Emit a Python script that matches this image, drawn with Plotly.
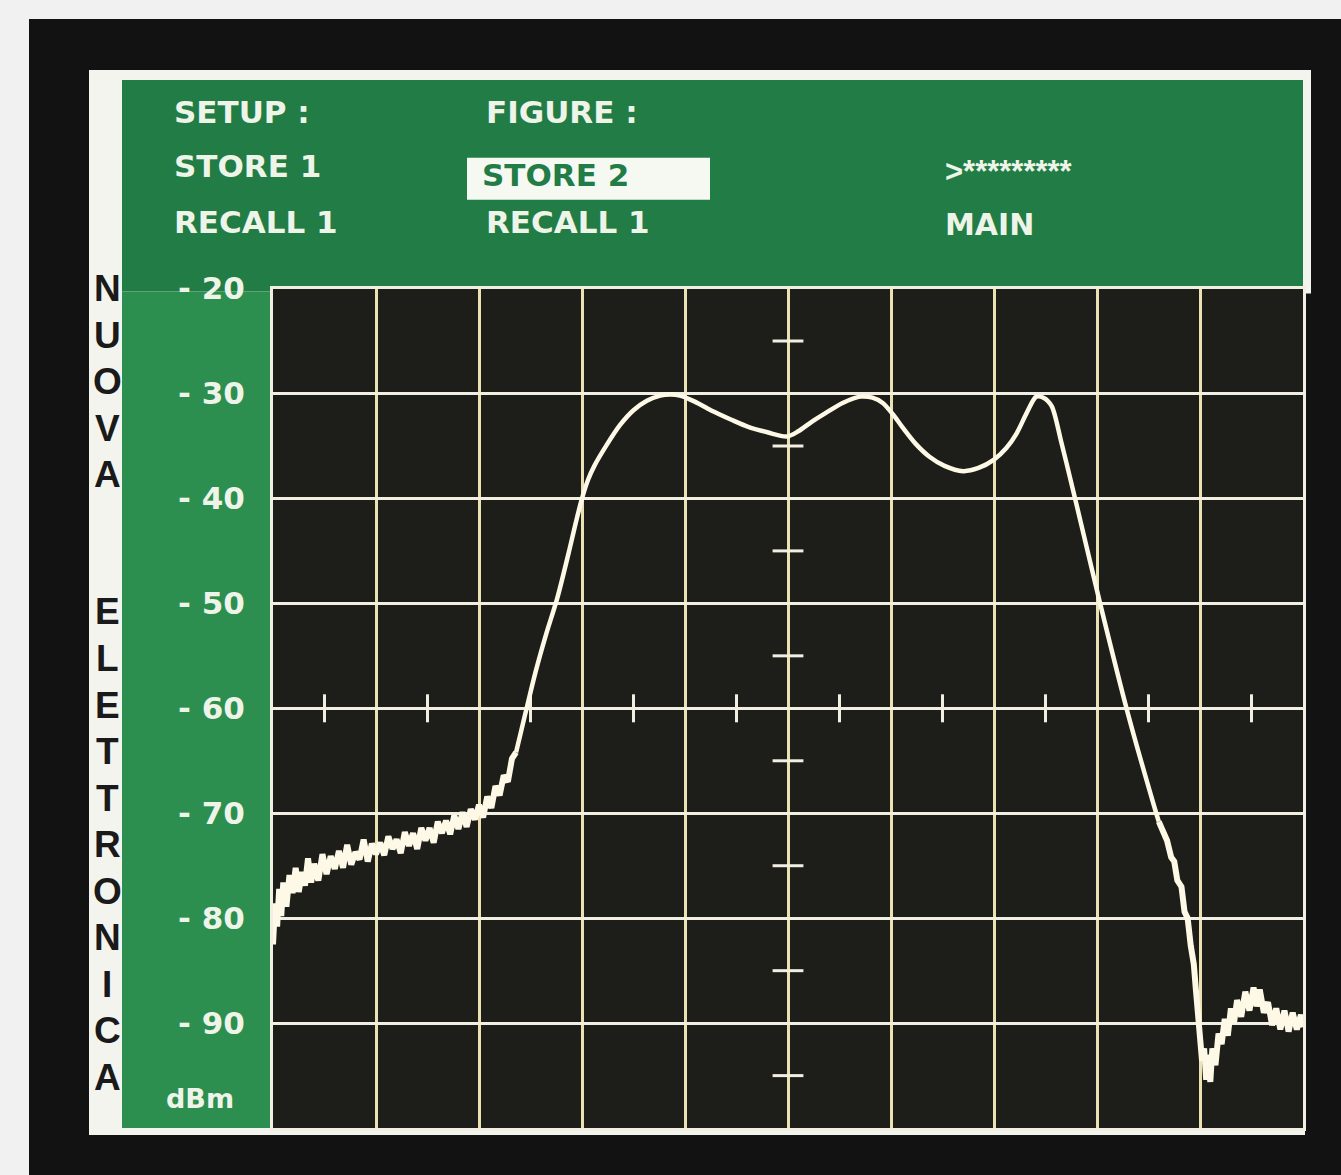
import plotly.graph_objects as go

W, H = 1341, 1175

# ---------------- DATA ----------------
# x in screen divisions (0..10), y in dBm
left_noise_x = [0.00, 0.02, 0.04, 0.06, 0.08, 0.10, 0.13, 0.16, 0.19, 0.22, 0.25, 0.28, 0.31, 0.34,
                0.37, 0.40, 0.44, 0.48, 0.52, 0.56, 0.60, 0.64, 0.68, 0.72, 0.76, 0.80, 0.84, 0.88,
                0.92, 0.96, 1.00, 1.04, 1.08, 1.12, 1.16, 1.20, 1.24, 1.28, 1.32, 1.36, 1.40, 1.44,
                1.48, 1.52, 1.56, 1.60, 1.64, 1.68, 1.72, 1.76, 1.80, 1.84, 1.88, 1.92, 1.96, 2.00,
                2.04, 2.08, 2.12, 2.16, 2.20, 2.24, 2.28, 2.32, 2.36]
left_noise_y = [-82.5, -78.6, -80.8, -77.2, -79.8, -76.6, -78.9, -75.9, -77.6, -75.2, -77.5, -75.6, -76.9, -74.3,
                -76.6, -74.8, -76.4, -73.9, -75.8, -74.1, -75.3, -73.6, -75.2, -73.0, -74.9, -73.7, -74.4, -72.5,
                -74.6, -72.9, -73.9, -72.8, -74.0, -72.2, -73.4, -72.5, -73.8, -71.8, -73.1, -71.9, -73.4, -71.4,
                -72.6, -71.4, -72.8, -70.8, -71.9, -70.7, -72.0, -70.2, -71.5, -69.9, -71.3, -69.6, -70.6, -69.2,
                -70.4, -68.4, -69.5, -67.4, -68.3, -66.4, -67.0, -64.8, -64.2]

band_x = [2.36, 2.45, 2.55, 2.65, 2.76, 2.88, 2.94, 3.00, 3.06, 3.12, 3.24, 3.37, 3.50, 3.63, 3.76, 3.86, 3.95,
          4.10, 4.25, 4.45, 4.62, 4.80, 4.99, 5.10, 5.23, 5.36, 5.53, 5.70, 5.82, 5.92, 6.02, 6.11,
          6.24, 6.37, 6.52, 6.70, 6.85, 7.00, 7.12, 7.22, 7.32, 7.41, 7.48, 7.56, 7.65, 7.75, 7.85,
          8.03, 8.30, 8.56, 8.60]
band_y = [-64.2, -60.5, -56.5, -53.0, -49.5, -44.8, -42.3, -40.0, -38.2, -36.9, -34.9, -33.0, -31.6, -30.7, -30.2,
          -30.1, -30.2, -30.8, -31.6, -32.5, -33.2, -33.7, -34.1, -33.6, -32.7, -31.9, -30.9, -30.3, -30.4, -30.9,
          -32.0, -33.2, -34.8, -36.0, -36.9, -37.4, -37.1, -36.3, -35.2, -33.8, -31.8, -30.3, -30.4, -31.2, -34.5,
          -38.5, -42.6, -50.0, -60.5, -69.5, -70.8]

right_noise_x = [8.60, 8.64, 8.68, 8.72, 8.75, 8.78, 8.82, 8.85, 8.88, 8.91, 8.94, 8.96, 8.98, 9.00,
                 9.02, 9.04, 9.06, 9.08, 9.10, 9.12, 9.15, 9.18, 9.21, 9.24, 9.27, 9.30, 9.33, 9.36,
                 9.40, 9.44, 9.48, 9.52, 9.55, 9.58, 9.62, 9.66, 9.70, 9.74, 9.78, 9.82, 9.86, 9.90,
                 9.94, 9.98, 10.00]
right_noise_y = [-70.8, -71.8, -72.6, -74.2, -74.6, -76.4, -77.0, -79.4, -80.0, -82.6, -84.4, -86.8, -89.2, -91.5,
                 -93.6, -92.4, -95.4, -93.0, -95.6, -92.4, -94.0, -91.0, -92.0, -89.6, -91.2, -88.6, -90.0, -87.8,
                 -89.4, -87.0, -88.8, -86.6, -88.4, -86.8, -89.0, -88.0, -90.2, -88.6, -90.6, -88.8, -90.8, -89.0,
                 -90.6, -89.2, -90.4]

# graticule centre-line minor marks
centre_h_marks_x = [0.5, 1.5, 2.5, 3.5, 4.5, 5.5, 6.5, 7.5, 8.5, 9.5]
centre_h_marks_y = -60
centre_v_marks_y = [-25, -35, -45, -55, -65, -75, -85, -95]
centre_v_marks_x = 5

y_tick_vals = [-20, -30, -40, -50, -60, -70, -80, -90]
y_tick_text = ["- 20", "- 30", "- 40", "- 50", "- 60", "- 70", "- 80", "- 90"]
y_unit = "dBm"

menu_col1 = ["SETUP :", "STORE 1", "RECALL 1"]
menu_col2 = ["FIGURE :", "STORE 2", "RECALL 1"]
menu_col3 = [">*********", "MAIN"]
side_words = ["NUOVA", "ELETTRONICA"]

# ---------------- STYLE ----------------
TRACE = "#fdf9e6"
GRID_V = "#ebe2b4"
GRID_H = "#f2efe2"
GREEN_HDR = "#217c46"
GREEN_SIDE = "#2c8f50"
PLOT_BG = "#1d1e19"
PANEL = "#f4f4ee"
TXT = "#eef4e8"
FONT = "DejaVu Sans"

# the page is shown with a 16 px band above the figure, which is 1159 px tall
TOP_OFF, EFF_H = 16, 1159


def px(x):
    return x / W


def py(y):
    return 1 - (y - TOP_OFF) / EFF_H


fig = go.Figure()

fig.add_trace(go.Scatter(
    x=centre_h_marks_x, y=[centre_h_marks_y] * len(centre_h_marks_x), mode="markers",
    marker=dict(symbol="line-ns", size=20, line=dict(color=GRID_H, width=3)),
    hoverinfo="skip", showlegend=False))
fig.add_trace(go.Scatter(
    x=[centre_v_marks_x] * len(centre_v_marks_y), y=centre_v_marks_y, mode="markers",
    marker=dict(symbol="line-ew", size=22, line=dict(color=GRID_H, width=3)),
    hoverinfo="skip", showlegend=False))

fig.add_trace(go.Scatter(x=left_noise_x, y=left_noise_y, mode="lines",
                         line=dict(color=TRACE, width=6), showlegend=False))
fig.add_trace(go.Scatter(x=band_x, y=band_y, mode="lines",
                         line=dict(color=TRACE, width=4.5, shape="spline", smoothing=0.8),
                         showlegend=False))
fig.add_trace(go.Scatter(x=right_noise_x, y=right_noise_y, mode="lines",
                         line=dict(color=TRACE, width=6), showlegend=False))

PL, PR, PT, PB = 273, 1303, 287, 1128

shapes = [
    # black photo frame
    dict(type="rect", xref="paper", yref="paper", x0=px(29), x1=px(W), y0=py(H), y1=py(17),
         fillcolor="#121212", line_width=0, layer="below"),
    # white panel
    dict(type="rect", xref="paper", yref="paper", x0=px(89), x1=px(1305), y0=py(1135), y1=py(68),
         fillcolor=PANEL, line_width=0, layer="below"),
    # white border on the right of the header
    dict(type="rect", xref="paper", yref="paper", x0=px(1300), x1=px(1311), y0=py(292), y1=py(68),
         fillcolor=PANEL, line_width=0, layer="below"),
    # green header
    dict(type="rect", xref="paper", yref="paper", x0=px(122), x1=px(PR), y0=py(PT + 3), y1=py(78),
         fillcolor=GREEN_HDR, line_width=0, layer="below"),
    # green side strip
    dict(type="rect", xref="paper", yref="paper", x0=px(122), x1=px(PL + 1), y0=py(PB), y1=py(PT + 3),
         fillcolor=GREEN_SIDE, line_width=0, layer="below"),
    # screen (plot area) background
    dict(type="rect", xref="paper", yref="paper", x0=px(PL), x1=px(PR), y0=py(PB), y1=py(PT),
         fillcolor=PLOT_BG, line_width=0, layer="below"),
    # STORE 2 highlight box
    dict(type="rect", xref="paper", yref="paper", x0=px(467), x1=px(710), y0=py(198), y1=py(156),
         fillcolor="#f6f8f2", line_width=0, layer="below"),
]

ann = []
rows_y = [110, 164, 220]
for t, yy in zip(menu_col1, rows_y):
    ann.append(dict(text=f"<b>{t}</b>", x=px(172), y=py(yy), font=dict(color=TXT, size=31, family=FONT)))
for i, (t, yy) in enumerate(zip(menu_col2, rows_y)):
    col = GREEN_HDR if i == 1 else TXT
    xx = 480 if i == 1 else 484
    ann.append(dict(text=f"<b>{t}</b>", x=px(xx), y=py(yy + (9 if i == 1 else 0)),
                    font=dict(color=col, size=31, family=FONT)))
ann.append(dict(text=f"<b>{menu_col3[0]}</b>", x=px(943), y=py(170),
                font=dict(color=TXT, size=31, family="Liberation Sans")))
ann.append(dict(text=f"<b>{menu_col3[1]}</b>", x=px(943), y=py(223),
                font=dict(color=TXT, size=30, family=FONT)))
ann.append(dict(text=f"<b>{y_unit}</b>", x=px(164), y=py(1098),
                font=dict(color=TXT, size=27, family=FONT)))

starts = [287, 611]
for word, y0 in zip(side_words, starts):
    for k, ch in enumerate(word):
        ann.append(dict(text=f"<b>{ch}</b>", x=px(107.5), y=py(y0 + k * 46.6), xanchor="center",
                        font=dict(color="#1a1a1a", size=37, family="Liberation Sans")))

for a in ann:
    a.setdefault("xanchor", "left")
    a.update(xref="paper", yref="paper", yanchor="middle", showarrow=False)

fig.update_layout(
    width=W, height=H, autosize=False,
    margin=dict(l=0, r=0, t=0, b=0, pad=0),
    paper_bgcolor="#f1f1f1",
    plot_bgcolor=PLOT_BG,
    shapes=shapes,
    annotations=ann,
    showlegend=False,
    xaxis=dict(domain=[px(PL), px(PR)], range=[0, 10], dtick=1, tick0=0,
               showgrid=True, gridcolor=GRID_V, gridwidth=3, zeroline=False,
               showline=True, mirror=True, linecolor=GRID_H, linewidth=3,
               showticklabels=False, ticks="", fixedrange=True),
    yaxis=dict(domain=[py(PB), py(PT)], range=[-100, -20],
               tickvals=y_tick_vals, ticktext=[f"<b>{t}</b>" for t in y_tick_text],
               tickfont=dict(color=TXT, size=31, family=FONT),
               showgrid=True, gridcolor=GRID_H, gridwidth=3, zeroline=False,
               showline=True, mirror=True, linecolor=GRID_H, linewidth=3,
               ticks="", ticklabelstandoff=19, fixedrange=True),
)

fig.write_html(
    "out.html",
    config={"responsive": False, "displayModeBar": False},
    post_script="document.body.style.margin='0';document.body.style.overflow='hidden';",
)
